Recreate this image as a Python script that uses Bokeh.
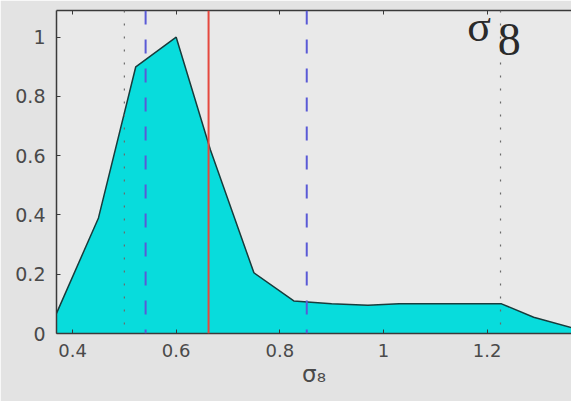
from bokeh.plotting import figure
from bokeh.models import Range1d, LinearAxis, Span, Label, FixedTicker, CustomJSTickFormatter
from bokeh.embed import file_html
from bokeh.resources import INLINE

# Marginalised likelihood of sigma_8
sigma8 = [0.369, 0.45, 0.522, 0.600, 0.666, 0.750, 0.827, 0.900, 0.970, 1.030, 1.120, 1.190, 1.228, 1.290, 1.363]
likelihood = [0.068, 0.39, 0.90, 1.00, 0.62, 0.205, 0.110, 0.100, 0.095, 0.100, 0.100, 0.100, 0.100, 0.055, 0.020]

best_fit = 0.6625          # red solid line
conf_68 = [0.541, 0.852]   # blue dashed lines
conf_95 = [0.500, 1.226]   # dotted lines

x_ticks = [0.4, 0.6, 0.8, 1.0, 1.2]
y_ticks = [0.0, 0.2, 0.4, 0.6, 0.8, 1.0]

TICK_FONT = "DejaVu Sans"
TICK_COLOR = "#4a4a4a"
AXIS_COLOR = "#3a3a3a"

p = figure(width=571, height=401, output_backend="svg", toolbar_location=None,
           x_range=Range1d(0.369, 1.363), y_range=Range1d(0, 1.09),
           min_border_left=56, min_border_right=0, min_border_top=10, min_border_bottom=68)

p.background_fill_color = "#e9e9e9"
p.border_fill_color = "#e3e3e3"
p.outline_line_color = None
p.xgrid.visible = False
p.ygrid.visible = False

# filled likelihood curve
p.varea(x=sigma8, y1=0, y2=likelihood, fill_color="#08dcdc")
p.line(x=sigma8, y=likelihood, line_color="#183c3c", line_width=1.5)

for loc in conf_95:
    p.add_layout(Span(location=loc, dimension="height", line_color="#6b6b6b",
                      line_width=1.2, line_dash="2 11"))
for loc in conf_68:
    p.add_layout(Span(location=loc, dimension="height", line_color="#5a5ad6",
                      line_width=2, line_dash="14 15"))
p.add_layout(Span(location=best_fit, dimension="height", line_color="#e5483e", line_width=2))

fmt = CustomJSTickFormatter(code="return tick.toFixed(1).replace(/\\.0$/, '');")

for ax, ticks in ((p.xaxis[0], x_ticks), (p.yaxis[0], y_ticks)):
    ax.ticker = FixedTicker(ticks=ticks)
    ax.formatter = fmt
    ax.major_tick_in = 4
    ax.major_tick_out = 0
    ax.minor_tick_line_color = None
    ax.axis_line_color = AXIS_COLOR
    ax.axis_line_width = 1.5
    ax.major_tick_line_color = AXIS_COLOR
    ax.major_label_text_font = TICK_FONT
    ax.major_label_text_font_size = "18px"
    ax.major_label_text_color = TICK_COLOR

p.yaxis.major_label_text_font_size = "19px"
p.yaxis.major_label_standoff = 11
p.xaxis.major_label_standoff = 10

# x-axis title: sigma with subscript 8
p.xaxis.axis_label = "σ₈"
p.xaxis.axis_label_text_font = TICK_FONT
p.xaxis.axis_label_text_font_style = "normal"
p.xaxis.axis_label_text_font_size = "23px"
p.xaxis.axis_label_text_color = TICK_COLOR
p.xaxis.axis_label_standoff = 1

# mirrored ticks along the top edge
top = LinearAxis(ticker=FixedTicker(ticks=x_ticks),
                 formatter=CustomJSTickFormatter(code="return '';"),
                 major_tick_in=4, major_tick_out=0, minor_tick_line_color=None,
                 major_label_standoff=0, major_label_text_font_size="0px",
                 axis_line_color=AXIS_COLOR, axis_line_width=1.5,
                 major_tick_line_color=AXIS_COLOR)
p.add_layout(top, "above")

# panel title
p.add_layout(Label(x=1.162, y=1.036, text="σ", text_font="Liberation Serif",
                   text_font_size="44px", text_color="#2a2a2a", text_baseline="alphabetic"))
p.add_layout(Label(x=1.2205, y=0.993, text="8", text_font="Liberation Serif",
                   text_font_size="46px", text_color="#2a2a2a", text_baseline="alphabetic"))

open("out.html", "w").write(file_html(p, INLINE))
